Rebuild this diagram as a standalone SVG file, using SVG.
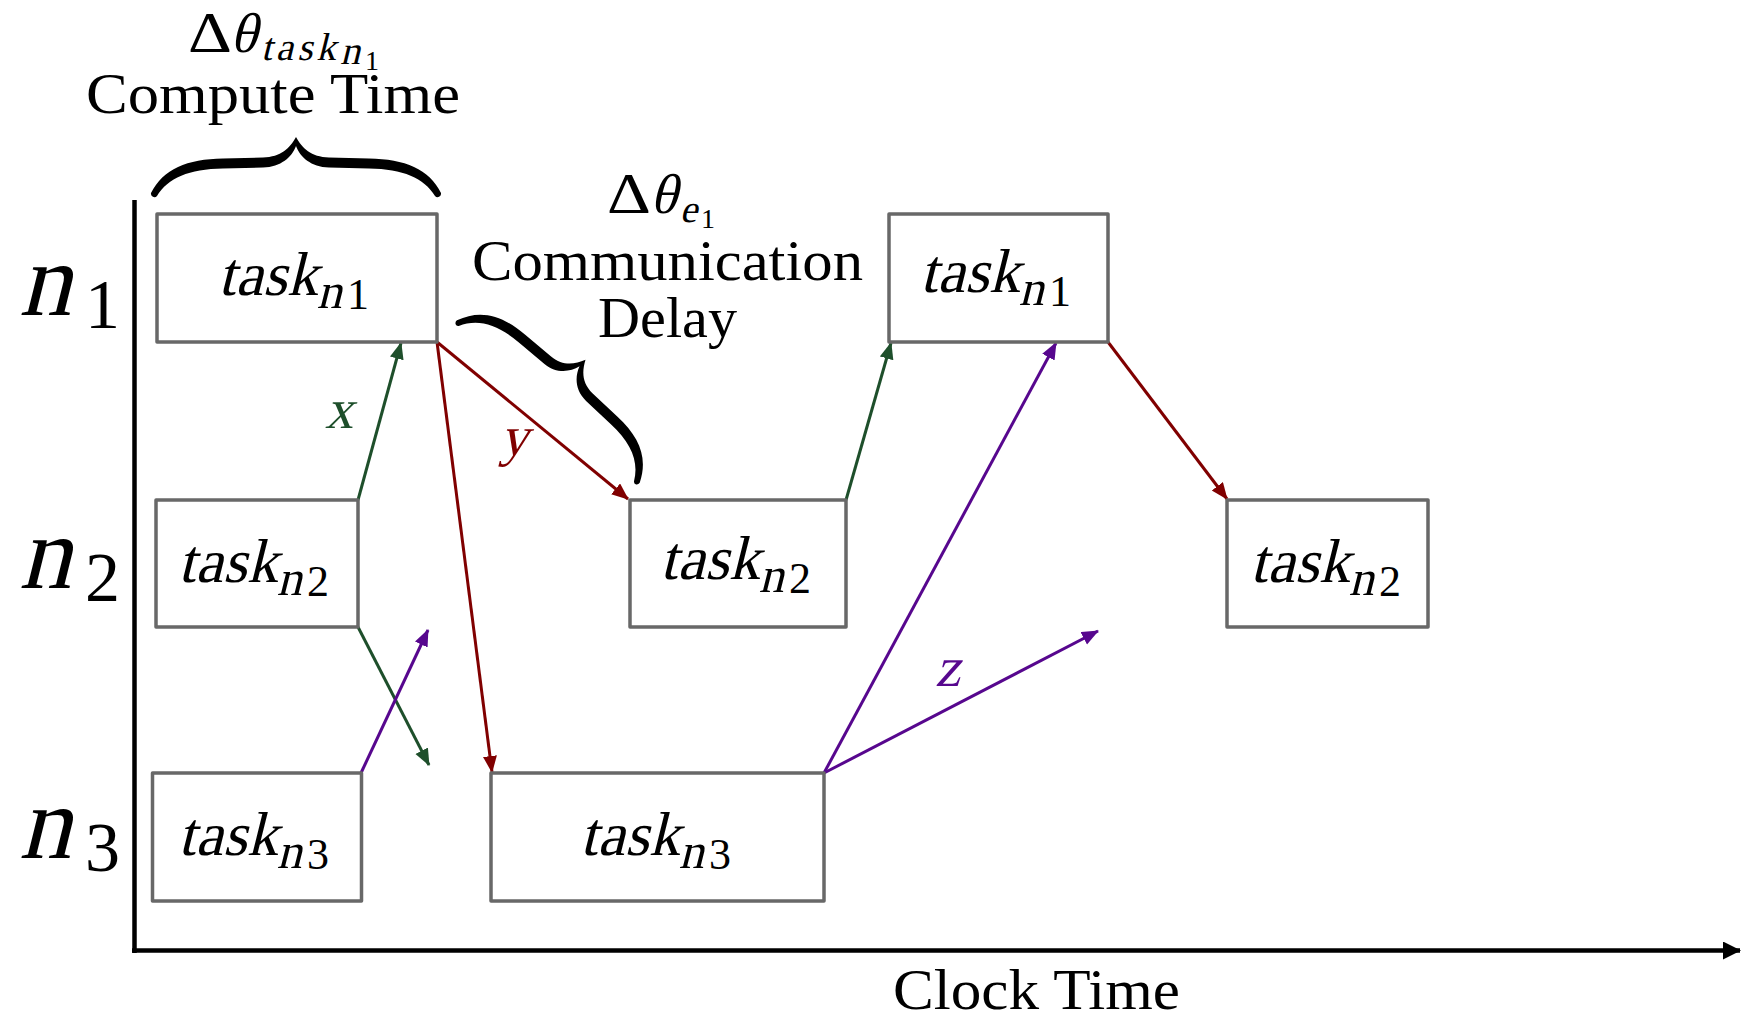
<svg xmlns="http://www.w3.org/2000/svg" width="1747" height="1018" viewBox="0 0 1747 1018">
<style>
.mi{font-family:"Liberation Serif","DejaVu Serif",serif;fill:#000}
.rm{font-family:"Liberation Serif","DejaVu Serif",serif;fill:#000}
.lbl{font-family:"Liberation Serif","DejaVu Serif",serif;font-size:56px;fill:#000}
.box{fill:#ffffff;stroke:#686868;stroke-width:3.5;stroke-linejoin:round}
.edge{fill:none;stroke-width:3}
.red{stroke:#800000}
.grn{stroke:#1e4f2b}
.pur{stroke:#57078e}
.axis{stroke:#000;stroke-width:4.5;fill:none}
</style>
<defs>
<path id="brace" fill="#000" d="M-145,-2 C-133,-26 -109,-36 -73,-36.5 L-33,-37.5 C-15,-38 -6,-47 0,-58 C6,-47 15,-38 33,-37.5 L73,-36.5 C109,-36 133,-26 145,-2 A3.5,3.5 0 0 1 139,1 C128,-17 107,-26 73,-26.5 L33,-27.5 C15,-28 4,-38 0,-49 C-4,-38 -15,-28 -33,-27.5 L-73,-26.5 C-107,-26 -128,-17 -139,1 A3.5,3.5 0 0 1 -145,-2 Z"/>
<marker id="ar" markerUnits="userSpaceOnUse" markerWidth="18" markerHeight="16" refX="16" refY="7" orient="auto"><path d="M0,0 L17,7 L0,14 Z" fill="#800000"/></marker>
<marker id="ag" markerUnits="userSpaceOnUse" markerWidth="18" markerHeight="16" refX="16" refY="7" orient="auto"><path d="M0,0 L17,7 L0,14 Z" fill="#1e4f2b"/></marker>
<marker id="ap" markerUnits="userSpaceOnUse" markerWidth="18" markerHeight="16" refX="16" refY="7" orient="auto"><path d="M0,0 L17,7 L0,14 Z" fill="#57078e"/></marker>
<marker id="ak" markerUnits="userSpaceOnUse" markerWidth="20" markerHeight="20" refX="17" refY="9" orient="auto"><path d="M0,0 L18,9 L0,18 Z" fill="#000"/></marker>
</defs>
<rect width="1747" height="1018" fill="#ffffff"/>

<g id="axes">
<line class="axis" x1="134.5" y1="200" x2="134.5" y2="953"/>
<line class="axis" x1="132" y1="950.5" x2="1740" y2="950.5" marker-end="url(#ak)"/>
<text class="lbl" x="893" y="1009" textLength="287" lengthAdjust="spacingAndGlyphs">Clock Time</text>
</g>

<g id="row-n1">
<text class="mi" font-size="104" transform="translate(19,315) skewX(-14)">n</text>
<text class="rm" font-size="70" x="85" y="328">1</text>
</g>
<g id="row-n2">
<text class="mi" font-size="104" transform="translate(19,588) skewX(-14)">n</text>
<text class="rm" font-size="70" x="85" y="601">2</text>
</g>
<g id="row-n3">
<text class="mi" font-size="104" transform="translate(19,858) skewX(-14)">n</text>
<text class="rm" font-size="70" x="85" y="871">3</text>
</g>

<g id="compute-time">
<use href="#brace" transform="translate(296,195)"/>
<text class="rm" font-size="56" transform="translate(188,52) scale(1.22,1)">Δ</text>
<text class="mi" transform="translate(230,52) skewX(-14)"><tspan x="0" y="0" font-size="56">θ</tspan><tspan x="33" y="8" font-size="39" letter-spacing="4">task</tspan><tspan x="113" y="12" font-size="40">n</tspan></text>
<text class="rm" font-size="28" x="365" y="70">1</text>
<text class="lbl" x="86" y="113" textLength="374" lengthAdjust="spacingAndGlyphs">Compute Time</text>
</g>

<g id="communication-delay">
<use href="#brace" transform="translate(547,403) rotate(41.6) scale(0.843,1)"/>
<text class="rm" font-size="56" transform="translate(607,213) scale(1.22,1)">Δ</text>
<text class="mi" transform="translate(650,213) skewX(-14)"><tspan x="0" y="0" font-size="56">θ</tspan><tspan x="32" y="9" font-size="39">e</tspan></text>
<text class="rm" font-size="28" x="701" y="228">1</text>
<text class="lbl" x="472" y="280" textLength="391" lengthAdjust="spacingAndGlyphs">Communication</text>
<text class="lbl" x="598" y="337" textLength="139" lengthAdjust="spacingAndGlyphs">Delay</text>
</g>

<g id="connectors">
<line class="edge grn" x1="358" y1="500" x2="401" y2="343" marker-end="url(#ag)"/>
<line class="edge grn" x1="358" y1="627" x2="429" y2="765" marker-end="url(#ag)"/>
<line class="edge pur" x1="361" y1="773" x2="428" y2="630" marker-end="url(#ap)"/>
<line class="edge red" x1="437" y1="342" x2="628" y2="499" marker-end="url(#ar)"/>
<line class="edge red" x1="437" y1="342" x2="492" y2="772" marker-end="url(#ar)"/>
<line class="edge grn" x1="846" y1="500" x2="891" y2="343" marker-end="url(#ag)"/>
<line class="edge pur" x1="824" y1="773" x2="1056" y2="343" marker-end="url(#ap)"/>
<line class="edge pur" x1="824" y1="773" x2="1098" y2="631" marker-end="url(#ap)"/>
<line class="edge red" x1="1108" y1="342" x2="1227" y2="499" marker-end="url(#ar)"/>
<text class="mi" font-size="56" transform="translate(325,428) skewX(-14)" style="fill:#1e4f2b">x</text>
<text class="mi" font-size="56" transform="translate(500,455) skewX(-14)" style="fill:#800000">y</text>
<text class="mi" font-size="56" transform="translate(935,686) skewX(-14)" style="fill:#57078e">z</text>
</g>

<g id="task-n1-a">
<rect class="box" x="157" y="214" width="280" height="128"/>
<text class="mi" transform="translate(218,295) skewX(-14)"><tspan font-size="62">task</tspan><tspan x="102" y="13" font-size="50">n</tspan></text>
<text class="rm" font-size="44" x="347" y="309">1</text>
</g>
<g id="task-n2-a">
<rect class="box" x="156" y="500" width="202" height="127"/>
<text class="mi" transform="translate(178,582) skewX(-14)"><tspan font-size="62">task</tspan><tspan x="102" y="13" font-size="50">n</tspan></text>
<text class="rm" font-size="44" x="307" y="596">2</text>
</g>
<g id="task-n3-a">
<rect class="box" x="152.5" y="773" width="209" height="128"/>
<text class="mi" transform="translate(178,855) skewX(-14)"><tspan font-size="62">task</tspan><tspan x="102" y="13" font-size="50">n</tspan></text>
<text class="rm" font-size="44" x="307" y="869">3</text>
</g>
<g id="task-n2-b">
<rect class="box" x="630" y="500" width="216" height="127"/>
<text class="mi" transform="translate(660,579) skewX(-14)"><tspan font-size="62">task</tspan><tspan x="102" y="13" font-size="50">n</tspan></text>
<text class="rm" font-size="44" x="789" y="593">2</text>
</g>
<g id="task-n3-b">
<rect class="box" x="491" y="773" width="333" height="128"/>
<text class="mi" transform="translate(580,855) skewX(-14)"><tspan font-size="62">task</tspan><tspan x="102" y="13" font-size="50">n</tspan></text>
<text class="rm" font-size="44" x="709" y="869">3</text>
</g>
<g id="task-n1-b">
<rect class="box" x="889" y="214" width="219" height="128"/>
<text class="mi" transform="translate(920,292) skewX(-14)"><tspan font-size="62">task</tspan><tspan x="102" y="13" font-size="50">n</tspan></text>
<text class="rm" font-size="44" x="1049" y="306">1</text>
</g>
<g id="task-n2-c">
<rect class="box" x="1227" y="500" width="201" height="127"/>
<text class="mi" transform="translate(1250,582) skewX(-14)"><tspan font-size="62">task</tspan><tspan x="102" y="13" font-size="50">n</tspan></text>
<text class="rm" font-size="44" x="1379" y="596">2</text>
</g>
</svg>
